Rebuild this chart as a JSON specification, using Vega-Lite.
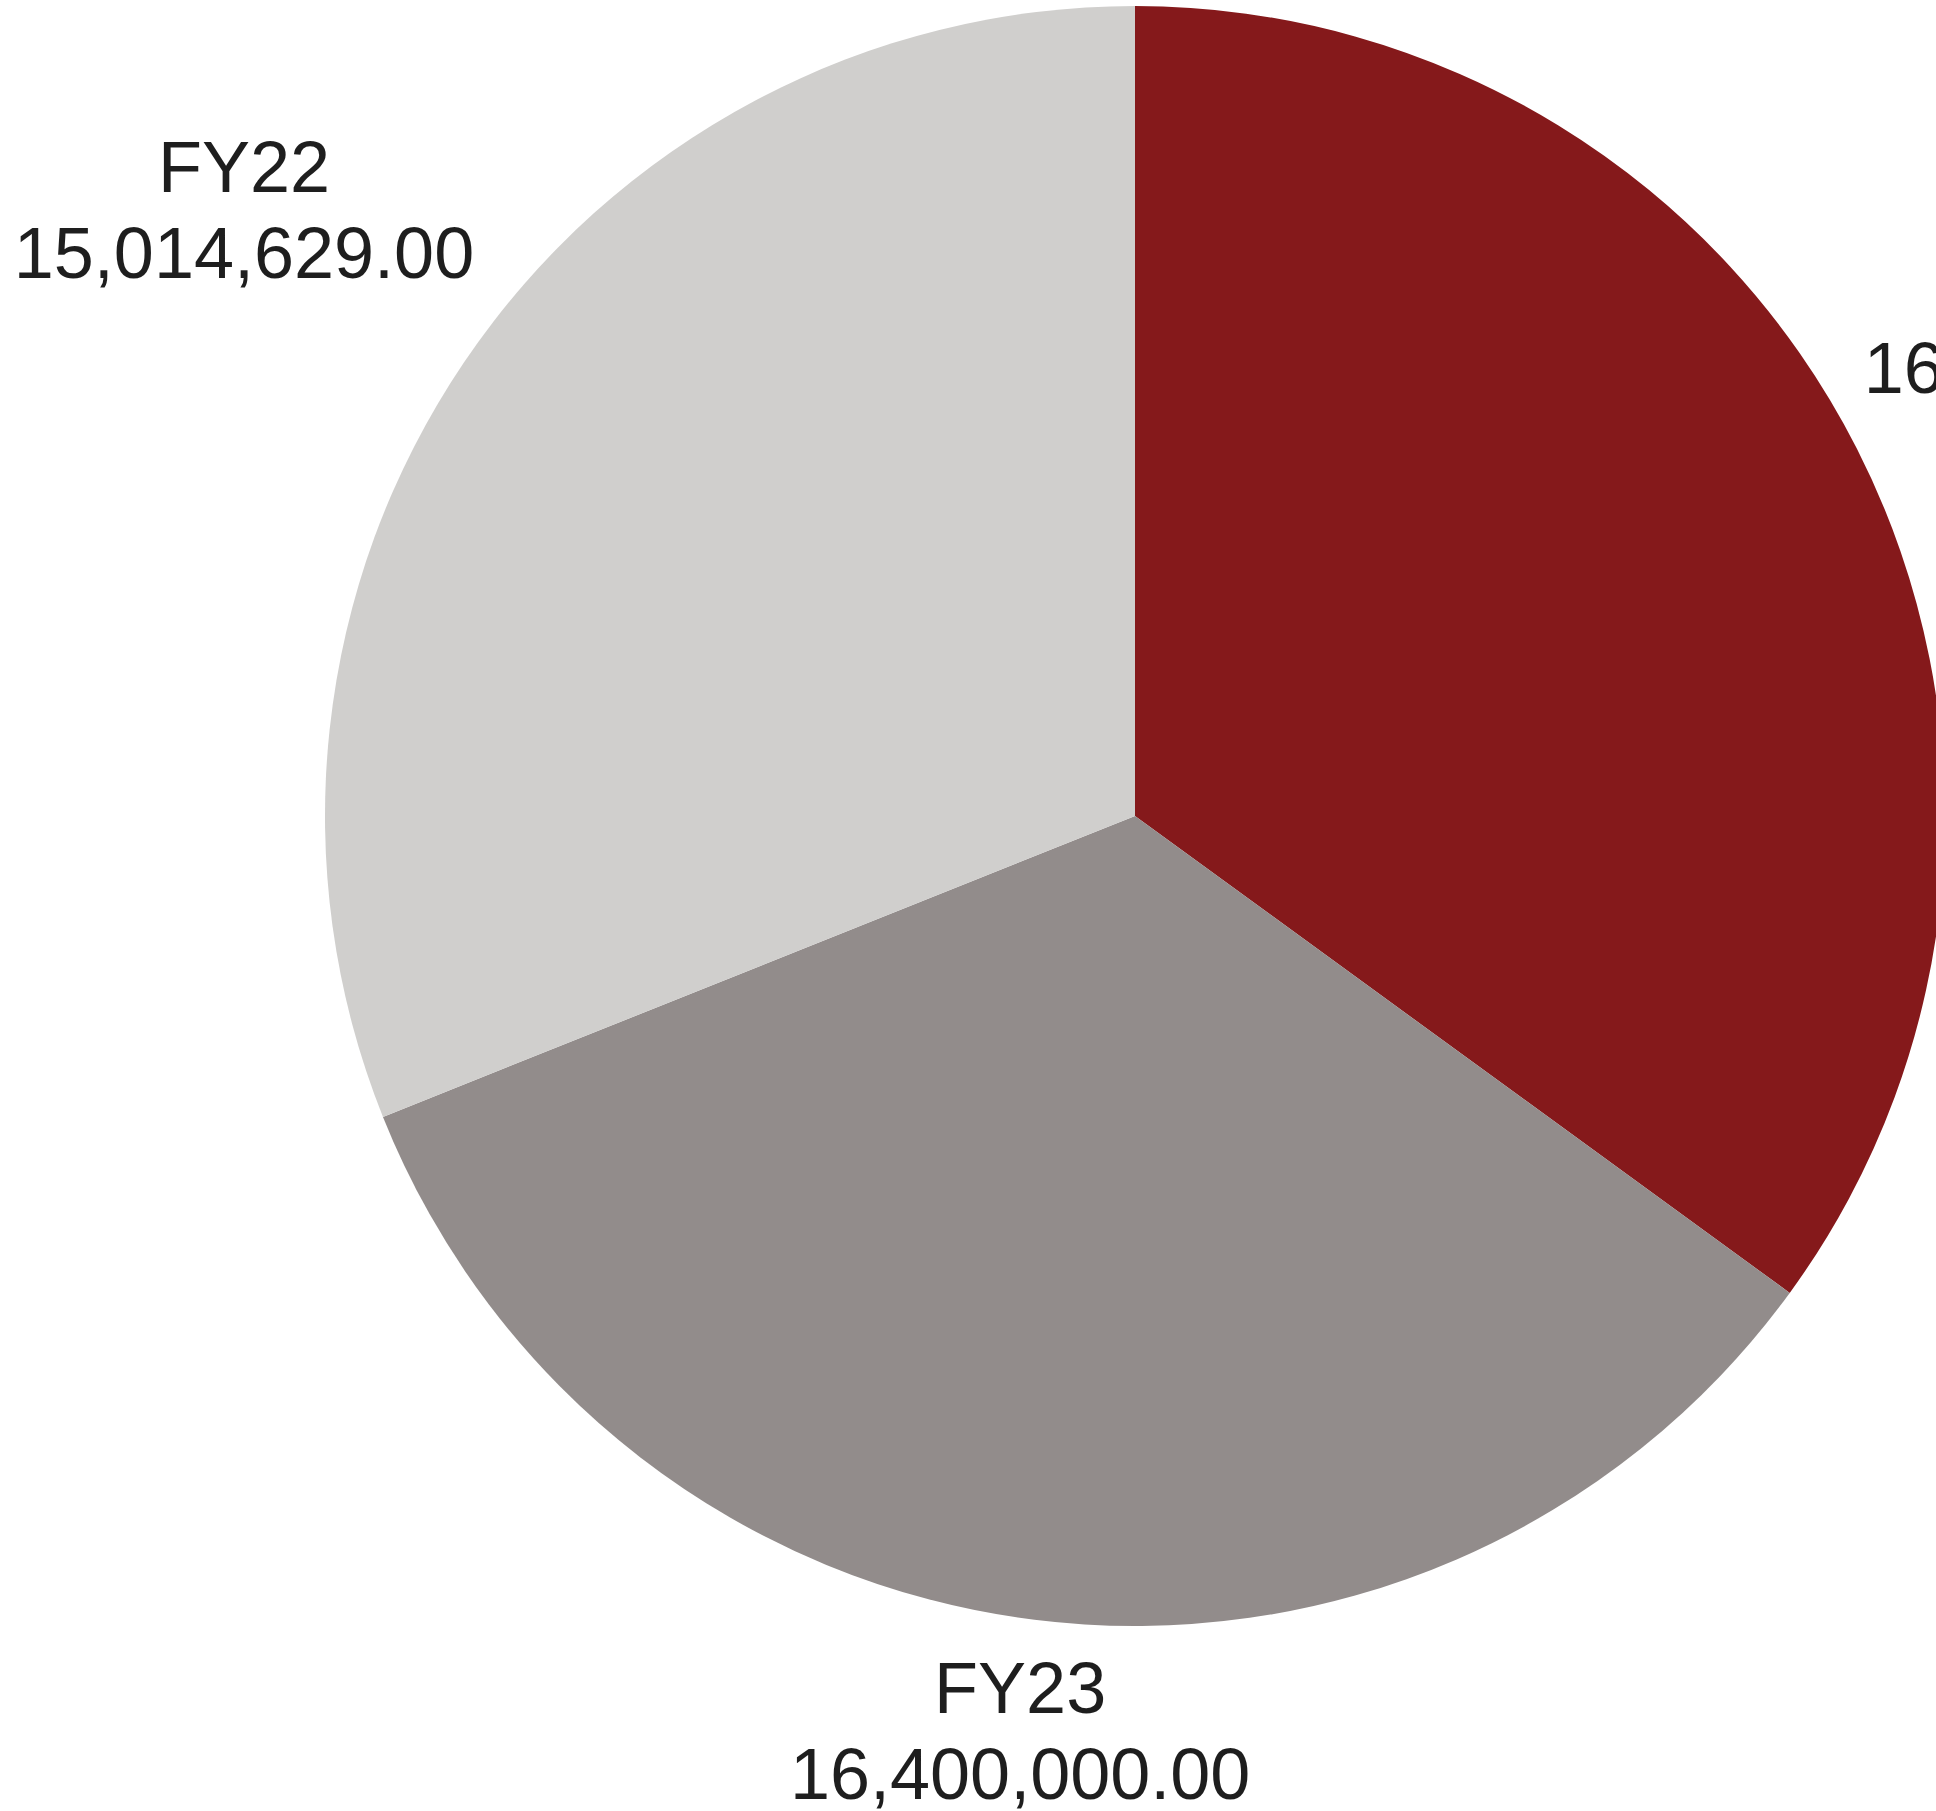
{
  "$schema": "https://vega.github.io/schema/vega-lite/v6.json",
  "width": 2270,
  "height": 1632,
  "autosize": {"type": "none"},
  "padding": {"left": 0, "top": 0, "right": 0, "bottom": 179},
  "background": "white",
  "config": {"view": {"stroke": null}, "text": {"lineBreak": "\n"}},
  "data": {
    "values": [
      {"year": "FY24", "value": 16930000, "label": "FY24\n16,930,000.00"},
      {"year": "FY23", "value": 16400000, "label": "FY23\n16,400,000.00"},
      {"year": "FY22", "value": 15014629, "label": "FY22\n15,014,629.00"}
    ]
  },
  "encoding": {
    "theta": {"field": "value", "type": "quantitative", "stack": true},
    "order": {"field": "year", "type": "nominal", "sort": "descending"},
    "color": {
      "field": "year",
      "type": "nominal",
      "scale": {"domain": ["FY24", "FY23", "FY22"], "range": ["#85191B", "#928C8B", "#D0CFCD"]},
      "legend": null
    }
  },
  "layer": [
    {"mark": {"type": "arc", "outerRadius": 810}},
    {
      "mark": {"type": "text", "radius": 1076, "dy": -43, "font": "Liberation Sans", "fontSize": 72, "lineHeight": 86, "align": "center", "baseline": "middle"},
      "encoding": {
        "text": {"field": "label", "type": "nominal", "condition": {"test": "datum.year === 'FY23'", "value": ""}},
        "color": {"value": "#1E1E1E"}
      }
    },
    {
      "mark": {"type": "text", "radius": 925, "dy": -43, "font": "Liberation Sans", "fontSize": 72, "lineHeight": 86, "align": "center", "baseline": "middle"},
      "encoding": {
        "text": {"field": "label", "type": "nominal", "condition": {"test": "datum.year !== 'FY23'", "value": ""}},
        "color": {"value": "#1E1E1E"}
      }
    }
  ]
}
